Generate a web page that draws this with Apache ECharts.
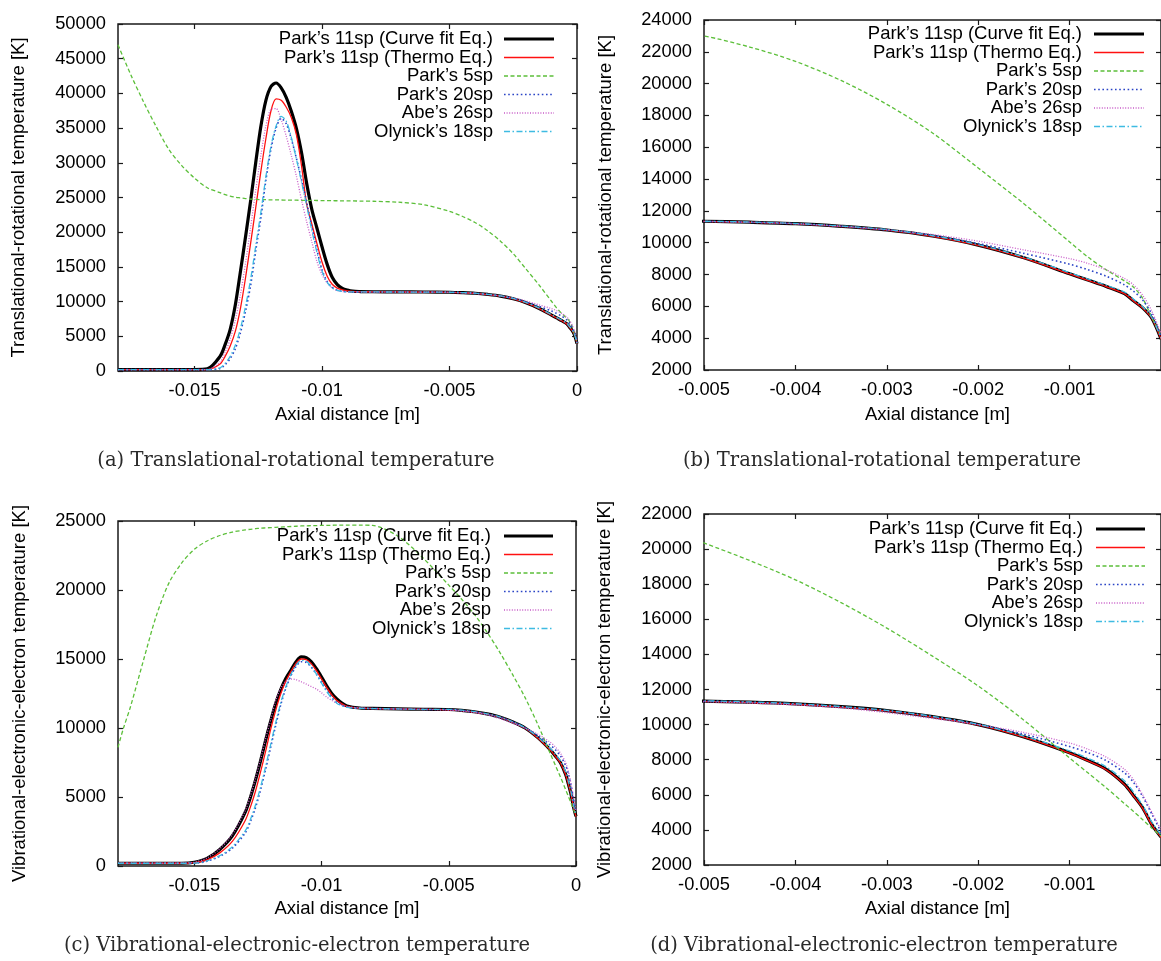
<!DOCTYPE html>
<html>
<head>
<meta charset="utf-8">
<script src="https://cdn.jsdelivr.net/npm/echarts/dist/echarts.min.js"></script>
<style>
  html, body { margin: 0; padding: 0; background: #ffffff; overflow: hidden; }
  #chart { width: 1161px; height: 961px; }
</style>
</head>
<body>
<div id="chart"></div>
<script>
// ---------------------------------------------------------------
// Axial distance grids [m]
// ---------------------------------------------------------------
const X_TR = [-0.018, -0.0175, -0.017, -0.0165, -0.016, -0.0155, -0.015, -0.0145, -0.014, -0.0138,
  -0.0136, -0.0134, -0.0132, -0.013, -0.0128, -0.0126, -0.0124, -0.0122, -0.012, -0.0118,
  -0.0116, -0.0114, -0.0112, -0.011, -0.0108, -0.0106, -0.0104, -0.0102, -0.01, -0.0098,
  -0.0096, -0.0094, -0.0092, -0.009, -0.0088, -0.0085, -0.008, -0.007, -0.006, -0.005,
  -0.0045, -0.004, -0.0035, -0.003, -0.0025, -0.002, -0.0015, -0.001, -0.0008, -0.0006,
  -0.0004, -0.0003, -0.0002, -0.0001, 0];

const X_VE = [-0.018, -0.0178, -0.0175, -0.017, -0.0165, -0.016, -0.0155, -0.015, -0.0145, -0.014,
  -0.0135, -0.013, -0.0128, -0.0126, -0.0124, -0.0122, -0.012, -0.0118, -0.0116, -0.0114,
  -0.0112, -0.011, -0.0108, -0.0106, -0.0104, -0.0102, -0.01, -0.0098, -0.0096, -0.0094,
  -0.0092, -0.009, -0.0085, -0.008, -0.007, -0.006, -0.005, -0.0045, -0.004, -0.0035,
  -0.003, -0.0025, -0.002, -0.0015, -0.001, -0.0008, -0.0006, -0.0004, -0.0003, -0.0002,
  -0.0001, 0];

// ---------------------------------------------------------------
// Translational-rotational temperature [K] (on X_TR)
// ---------------------------------------------------------------
const TR_CURVE_FIT = [200, 200, 200, 200, 200, 200, 200, 300, 2100, 3800,
  6000, 9500, 14300, 19300, 24500, 30000, 35200, 39000, 41000, 41500,
  40800, 39400, 37400, 34900, 31400, 27000, 23300, 20600, 17900, 15400,
  13500, 12450, 11900, 11650, 11500, 11450, 11420, 11400, 11380, 11350,
  11290, 11200, 11030, 10800, 10420, 9850, 9050, 8050, 7650, 7250,
  6800, 6350, 5900, 5250, 3950];

const TR_THERMO = [200, 200, 200, 200, 200, 200, 200, 200, 1000, 2100,
  3600, 5700, 9000, 13400, 18400, 23500, 28700, 33500, 37500, 39200,
  39000, 38000, 36500, 34000, 29500, 24000, 21200, 18400, 15700, 13700,
  12500, 11950, 11700, 11550, 11480, 11440, 11410, 11390, 11370, 11340,
  11280, 11190, 11020, 10790, 10400, 9830, 9030, 8040, 7640, 7240,
  6790, 6340, 5890, 5240, 3950];

const TR_5SP = [47000, 42700, 38800, 35200, 31900, 29600, 27800, 26400, 25700, 25400,
  25200, 25050, 24950, 24850, 24780, 24730, 24700, 24680, 24660, 24650,
  24640, 24630, 24620, 24610, 24600, 24590, 24580, 24570, 24560, 24550,
  24540, 24530, 24520, 24510, 24500, 24490, 24460, 24320, 23950, 23000,
  22300, 21400, 20200, 18700, 16900, 14700, 12450, 10050, 9100, 8300,
  7600, 7200, 6500, 5300, 4200];

const TR_20SP = [200, 200, 200, 200, 200, 200, 200, 200, 350, 900,
  1800, 3200, 5500, 8600, 12300, 17300, 22000, 27500, 32000, 35000,
  36400, 35600, 33400, 30600, 27500, 24300, 20800, 17500, 14600, 12900,
  12050, 11650, 11480, 11420, 11400, 11390, 11390, 11380, 11370, 11340,
  11280, 11190, 11030, 10800, 10450, 9950, 9330, 8650, 8300, 7900,
  7350, 6950, 6400, 5500, 4100];

const TR_26SP = [200, 200, 200, 200, 200, 200, 200, 200, 1300, 2700,
  4600, 7300, 11000, 15500, 20700, 26000, 31000, 35300, 37700, 37800,
  36200, 33800, 31000, 28000, 24600, 21500, 18600, 15800, 13900, 12700,
  11950, 11600, 11450, 11400, 11380, 11380, 11380, 11380, 11370, 11340,
  11290, 11200, 11040, 10820, 10520, 10100, 9550, 9000, 8700, 8300,
  7750, 7350, 6700, 5700, 4300];

const TR_18SP = [200, 200, 200, 200, 200, 200, 200, 200, 450, 1100,
  2100, 3700, 6100, 9300, 13200, 18000, 22800, 28000, 32400, 35300,
  36700, 36000, 33600, 30500, 27200, 23800, 20300, 17100, 14400, 12800,
  12000, 11620, 11460, 11410, 11390, 11390, 11390, 11380, 11370, 11350,
  11300, 11210, 11050, 10830, 10450, 9880, 9100, 8120, 7720, 7330,
  6900, 6450, 5980, 5300, 4000];

// ---------------------------------------------------------------
// Vibrational-electronic-electron temperature [K] (on X_VE)
// ---------------------------------------------------------------
const VE_CURVE_FIT = [200, 200, 200, 200, 200, 200, 200, 270, 550, 1200,
  2200, 3900, 4950, 6200, 7600, 9100, 10500, 11800, 12800, 13600,
  14200, 14800, 15150, 15100, 14800, 14300, 13700, 13050, 12500, 12100,
  11800, 11600, 11450, 11420, 11390, 11360, 11340, 11280, 11180, 11020,
  10800, 10450, 10000, 9300, 8400, 7950, 7450, 6600, 5950, 5250,
  4300, 3600];

const VE_THERMO = [200, 200, 200, 200, 200, 200, 200, 240, 450, 950,
  1800, 3300, 4250, 5400, 6800, 8300, 9900, 11300, 12500, 13400,
  14100, 14700, 15000, 14950, 14650, 14150, 13550, 12950, 12400, 12000,
  11750, 11570, 11440, 11410, 11380, 11350, 11320, 11260, 11160, 11000,
  10780, 10430, 9980, 9280, 8380, 7930, 7430, 6580, 5930, 5230,
  4280, 3580];

const VE_5SP = [8600, 9900, 11600, 14900, 18100, 20500, 21950, 22950, 23550, 23950,
  24200, 24350, 24400, 24440, 24480, 24500, 24520, 24540, 24560, 24580,
  24600, 24620, 24640, 24650, 24660, 24670, 24680, 24690, 24690, 24700,
  24700, 24700, 24700, 24680, 23900, 22300, 20350, 19350, 18250, 16950,
  15500, 13900, 12200, 10250, 8100, 7250, 6400, 5500, 5050, 4580,
  4100, 3650];

const VE_20SP = [200, 200, 200, 200, 200, 200, 200, 200, 350, 700,
  1300, 2400, 3200, 4200, 5500, 7000, 8600, 10200, 11700, 12900,
  13800, 14450, 14800, 14750, 14400, 13900, 13300, 12700, 12200, 11850,
  11650, 11520, 11430, 11410, 11380, 11350, 11330, 11270, 11170, 11010,
  10790, 10450, 10000, 9450, 8750, 8400, 7950, 7250, 6700, 5900,
  4900, 3900];

const VE_26SP = [200, 200, 200, 200, 200, 200, 200, 280, 580, 1250,
  2300, 4000, 5050, 6300, 7700, 9200, 10600, 12000, 12900, 13400,
  13550, 13500, 13350, 13180, 13000, 12820, 12550, 12250, 12000, 11800,
  11650, 11550, 11450, 11420, 11380, 11340, 11300, 11230, 11120, 10950,
  10680, 10350, 10000, 9550, 8950, 8600, 8150, 7450, 6850, 6000,
  5000, 4000];

const VE_18SP = [200, 200, 200, 200, 200, 200, 200, 210, 380, 750,
  1400, 2550, 3350, 4400, 5700, 7200, 8800, 10400, 11850, 13000,
  13900, 14550, 14900, 14850, 14450, 13900, 13250, 12650, 12150, 11800,
  11600, 11500, 11430, 11410, 11380, 11350, 11350, 11290, 11190, 11030,
  10810, 10470, 10020, 9350, 8500, 8080, 7600, 6800, 6150, 5400,
  4450, 3700];

// ---------------------------------------------------------------
// Labels and tick values
// ---------------------------------------------------------------
const SERIES_NAMES = ['Park’s 11sp (Curve fit Eq.)', 'Park’s 11sp (Thermo Eq.)', 'Park’s 5sp',
  'Park’s 20sp', 'Abe’s 26sp', 'Olynick’s 18sp'];
const X_TICKS_FULL = [-0.015, -0.01, -0.005, 0];
const X_TICKS_NEAR_WALL = [-0.005, -0.004, -0.003, -0.002, -0.001];
const X_TITLE = 'Axial distance [m]';
const Y_TITLE_TR = 'Translational-rotational temperature [K]';
const Y_TITLE_VE = 'Vibrational-electronic-electron temperature [K]';
const CAPTIONS = ['(a) Translational-rotational temperature', '(b) Translational-rotational temperature',
  '(c) Vibrational-electronic-electron temperature', '(d) Vibrational-electronic-electron temperature'];

// ---------------------------------------------------------------
// Styling
// ---------------------------------------------------------------
const SANS = '"Liberation Sans", Arial, Helvetica, sans-serif';
const SERIF = '"DejaVu Serif", "Liberation Serif", serif';
const FS = 18.3;
const KEY_FS = 18.5;
const TITLE_FS = 18.5;
const INK = '#1a1a1a';

const LINE_STYLES = [
  { color: '#000000', width: 3.2, type: 'solid' },
  { color: '#ff1010', width: 1.3, type: 'solid' },
  { color: '#5cbf3a', width: 1.3, type: [4, 2.5] },
  { color: '#2a44c6', width: 1.6, type: [1.6, 2.6] },
  { color: '#c85cc8', width: 1.3, type: [1, 1.6] },
  { color: '#3ebbe2', width: 1.3, type: [6, 2.5, 1.5, 2.5] }
];

// Panel layout: a (top-left), b (top-right), c (bottom-left), d (bottom-right)
const PANELS = [
  { grid: { left: 118, top: 24, width: 459, height: 347 }, xr: [-0.018, 0], xt: X_TICKS_FULL,
    yr: [0, 50000], ys: 5000, x: X_TR,
    data: [TR_CURVE_FIT, TR_THERMO, TR_5SP, TR_20SP, TR_26SP, TR_18SP],
    yTitle: Y_TITLE_TR, yTitleX: 19, xTitleY: 415, capX: 296, capY: 461,
    keyTextX: 493, keyLine: [504, 554], keyY: 39 },
  { grid: { left: 704, top: 20, width: 467, height: 350 }, xr: [-0.005, 0], xt: X_TICKS_NEAR_WALL,
    yr: [2000, 24000], ys: 2000, x: X_TR,
    data: [TR_CURVE_FIT, TR_THERMO, TR_5SP, TR_20SP, TR_26SP, TR_18SP],
    yTitle: Y_TITLE_TR, yTitleX: 606, xTitleY: 415, capX: 882, capY: 461,
    keyTextX: 1082, keyLine: [1094, 1144], keyY: 34 },
  { grid: { left: 118, top: 521, width: 458, height: 345 }, xr: [-0.018, 0], xt: X_TICKS_FULL,
    yr: [0, 25000], ys: 5000, x: X_VE,
    data: [VE_CURVE_FIT, VE_THERMO, VE_5SP, VE_20SP, VE_26SP, VE_18SP],
    yTitle: Y_TITLE_VE, yTitleX: 20, xTitleY: 909, capX: 297, capY: 946,
    keyTextX: 491, keyLine: [504, 553], keyY: 536 },
  { grid: { left: 704, top: 514, width: 467, height: 351 }, xr: [-0.005, 0], xt: X_TICKS_NEAR_WALL,
    yr: [2000, 22000], ys: 2000, x: X_VE,
    data: [VE_CURVE_FIT, VE_THERMO, VE_5SP, VE_20SP, VE_26SP, VE_18SP],
    yTitle: Y_TITLE_VE, yTitleX: 605, xTitleY: 909, capX: 884, capY: 946,
    keyTextX: 1083, keyLine: [1096, 1145], keyY: 529 }
];
const KEY_ROW = 18.5;

const fmtX = v => parseFloat(Number(v).toFixed(6)).toString();
const fmtY = v => String(Math.round(v));

const grids = [], xAxes = [], yAxes = [], series = [], graphics = [];
const tickStyle = { color: INK, width: 1.2 };

PANELS.forEach((p, i) => {
  grids.push(Object.assign({ show: true, borderColor: INK, borderWidth: 1.5,
    backgroundColor: 'transparent', containLabel: false }, p.grid));

  // bottom x axis with labels, top mirror with ticks only
  xAxes.push({ gridIndex: i, type: 'value', position: 'bottom', min: p.xr[0], max: p.xr[1],
    axisLine: { show: false, onZero: false },
    axisTick: { show: true, inside: true, length: 5, customValues: p.xt, lineStyle: tickStyle },
    axisLabel: { show: true, customValues: p.xt, formatter: fmtX, margin: 11, color: '#000',
      fontSize: FS, fontFamily: SANS },
    splitLine: { show: false } });
  xAxes.push({ gridIndex: i, type: 'value', position: 'top', min: p.xr[0], max: p.xr[1],
    axisLine: { show: false, onZero: false },
    axisTick: { show: true, inside: true, length: 5, customValues: p.xt, lineStyle: tickStyle },
    axisLabel: { show: false }, splitLine: { show: false } });

  // left y axis with labels, right mirror with ticks only
  yAxes.push({ gridIndex: i, type: 'value', position: 'left', min: p.yr[0], max: p.yr[1], interval: p.ys,
    axisLine: { show: false, onZero: false },
    axisTick: { show: true, inside: true, length: 5, lineStyle: tickStyle },
    axisLabel: { show: true, formatter: fmtY, margin: 12, color: '#000', fontSize: FS, fontFamily: SANS },
    splitLine: { show: false } });
  yAxes.push({ gridIndex: i, type: 'value', position: 'right', min: p.yr[0], max: p.yr[1], interval: p.ys,
    axisLine: { show: false, onZero: false },
    axisTick: { show: true, inside: true, length: 5, lineStyle: tickStyle },
    axisLabel: { show: false }, splitLine: { show: false } });

  p.data.forEach((vals, k) => {
    const st = LINE_STYLES[k];
    series.push({
      name: SERIES_NAMES[k], type: 'line', xAxisIndex: 2 * i, yAxisIndex: 2 * i,
      data: p.x.map((xv, j) => [xv, vals[j]]),
      symbol: 'none', showSymbol: false, smooth: 0.3, clip: true, silent: true,
      lineStyle: { color: st.color, width: st.width, type: st.type, cap: 'butt', join: 'round' },
      z: 2
    });
  });

  // key: right-aligned text followed by a line sample
  SERIES_NAMES.forEach((name, k) => {
    const st = LINE_STYLES[k];
    const y = p.keyY + k * KEY_ROW;
    graphics.push({ type: 'text', x: p.keyTextX, y: y, z: 10,
      style: { text: name, font: KEY_FS + 'px ' + SANS, fill: '#000',
        align: 'right', verticalAlign: 'middle', textAlign: 'right', textVerticalAlign: 'middle' } });
    graphics.push({ type: 'line', z: 10,
      shape: { x1: p.keyLine[0], y1: y, x2: p.keyLine[1], y2: y },
      style: { stroke: st.color, lineWidth: st.width,
        lineDash: Array.isArray(st.type) ? st.type : null } });
  });

  // axis titles and caption
  const cy = p.grid.top + p.grid.height / 2;
  const cx = p.grid.left + p.grid.width / 2;
  graphics.push({ type: 'text', x: p.yTitleX, y: cy, rotation: Math.PI / 2,
    style: { text: p.yTitle, font: TITLE_FS + 'px ' + SANS, fill: '#000',
      align: 'center', verticalAlign: 'middle', textAlign: 'center', textVerticalAlign: 'middle' } });
  graphics.push({ type: 'text', x: cx, y: p.xTitleY,
    style: { text: X_TITLE, font: TITLE_FS + 'px ' + SANS, fill: '#000',
      align: 'center', verticalAlign: 'middle', textAlign: 'center', textVerticalAlign: 'middle' } });
  graphics.push({ type: 'text', x: p.capX, y: p.capY,
    style: { text: CAPTIONS[i], font: '19.5px ' + SERIF, fill: '#2a2a2a',
      align: 'center', verticalAlign: 'middle', textAlign: 'center', textVerticalAlign: 'middle' } });
});

const chart = echarts.init(document.getElementById('chart'), null, { renderer: 'canvas' });
chart.setOption({
  backgroundColor: '#ffffff',
  animation: false,
  grid: grids,
  xAxis: xAxes,
  yAxis: yAxes,
  series: series,
  graphic: { elements: graphics }
});
</script>
</body>
</html>
